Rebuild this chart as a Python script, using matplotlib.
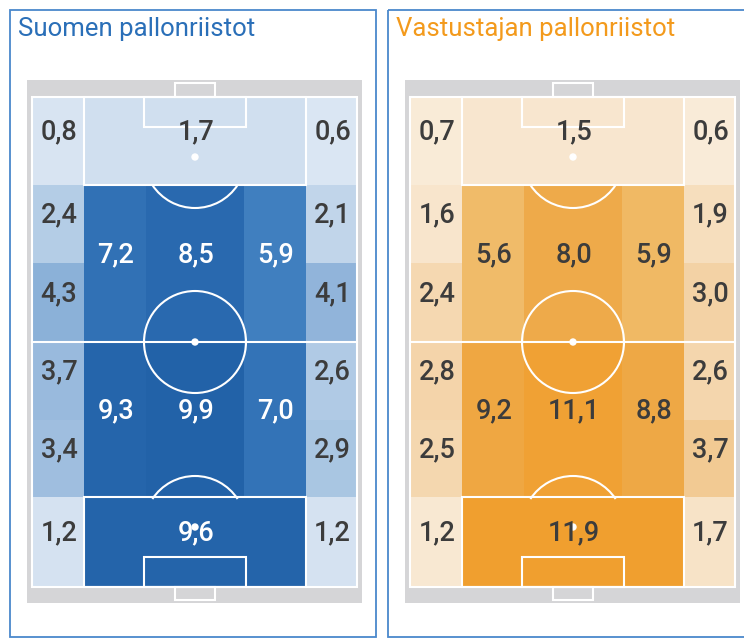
import matplotlib
matplotlib.use("Agg")
import matplotlib.pyplot as plt
from matplotlib.patches import Rectangle, Circle, Arc
from matplotlib.colors import LinearSegmentedColormap, Normalize

# values per zone (top of pitch = opponent goal)
titles = ["Suomen pallonriistot", "Vastustajan pallonriistot"]

fin_top = [0.8, 1.7, 0.6]
fin_wing_left = [2.4, 4.3, 3.7, 3.4]
fin_wing_right = [2.1, 4.1, 2.6, 2.9]
fin_mid_upper = [7.2, 8.5, 5.9]
fin_mid_lower = [9.3, 9.9, 7.0]
fin_bottom = [1.2, 9.6, 1.2]

opp_top = [0.7, 1.5, 0.6]
opp_wing_left = [1.6, 2.4, 2.8, 2.5]
opp_wing_right = [1.9, 3.0, 2.6, 3.7]
opp_mid_upper = [5.6, 8.0, 5.9]
opp_mid_lower = [9.2, 11.1, 8.8]
opp_bottom = [1.2, 11.9, 1.7]

teams = [
    (fin_top, fin_wing_left, fin_wing_right, fin_mid_upper, fin_mid_lower, fin_bottom),
    (opp_top, opp_wing_left, opp_wing_right, opp_mid_upper, opp_mid_lower, opp_bottom),
]

blue_cmap = LinearSegmentedColormap.from_list("fin", [
    (0.0, "#dfe9f5"), (0.17, "#d0dfef"), (0.24, "#b4cde6"), (0.43, "#8cb1d8"),
    (0.55, "#4d88c5"), (0.6, "#3e7dbe"), (0.75, "#2e6eb3"), (1.0, "#2262a8")])
orange_cmap = LinearSegmentedColormap.from_list("opp", [
    (0.0, "#faeedd"), (0.13, "#f8e6ce"), (0.16, "#f6ddbb"), (0.25, "#f3d2a5"),
    (0.31, "#f2c992"), (0.48, "#f0ba66"), (0.67, "#eeaa4a"), (1.0, "#f09f2e")])
cmaps = [blue_cmap, orange_cmap]
norms = [Normalize(0, 10), Normalize(0, 12)]
title_colors = ["#2a6fb8", "#f39a1c"]
border_color = "#4a88cc"
dark_text = "#3c3c3c"

# layout (pixels, relative to panel)
panel_dx = [0, 378]
px0, px1, py0, py1 = 32, 357, 97, 587
wing_l = (32, 84)
wing_r = (306, 357)
mid_cols = [(84, 146), (146, 244), (244, 306)]
rows = [97, 185, 263, 342, 420, 497, 587]
cx = 195

fig = plt.figure(figsize=(7.44, 6.39), dpi=100)
ax = fig.add_axes([0, 0, 1, 1])
ax.set_xlim(0, 744)
ax.set_ylim(639, 0)
ax.axis("off")

for k, (top, wl, wr, mu, ml, bot) in enumerate(teams):
    dx = panel_dx[k]
    cmap, norm = cmaps[k], norms[k]

    ax.add_patch(Rectangle((dx + 10, 10), 366, 627, fill=False,
                           edgecolor=border_color, lw=1.3))
    ax.text(dx + 18, 29, titles[k], color=title_colors[k], fontsize=18.5,
            family="Roboto", va="center", ha="left")

    # grey surround
    ax.add_patch(Rectangle((dx + 27, 80), 335, 523, color="#d5d5d7", lw=0))

    cells = []
    cells.append((wing_l, (rows[0], rows[1]), top[0]))
    cells.append(((84, 306), (rows[0], rows[1]), top[1]))
    cells.append((wing_r, (rows[0], rows[1]), top[2]))
    for i in range(4):
        cells.append((wing_l, (rows[1 + i], rows[2 + i]), wl[i]))
        cells.append((wing_r, (rows[1 + i], rows[2 + i]), wr[i]))
    for j in range(3):
        cells.append((mid_cols[j], (rows[1], rows[3]), mu[j]))
        cells.append((mid_cols[j], (rows[3], rows[5]), ml[j]))
    cells.append((wing_l, (rows[5], rows[6]), bot[0]))
    cells.append(((84, 306), (rows[5], rows[6]), bot[1]))
    cells.append((wing_r, (rows[5], rows[6]), bot[2]))

    for (x0, x1), (y0, y1), v in cells:
        ax.add_patch(Rectangle((dx + x0, y0), x1 - x0, y1 - y0,
                               color=cmap(norm(v)), lw=0))

    # pitch markings
    lc = "white"
    lw = 1.5
    ax.add_patch(Rectangle((dx + px0, py0), px1 - px0, py1 - py0, fill=False,
                           edgecolor=lc, lw=lw))
    ax.plot([dx + px0, dx + px1], [rows[3], rows[3]], color=lc, lw=lw)
    ax.add_patch(Circle((dx + cx, rows[3]), 51, fill=False, edgecolor=lc, lw=lw))
    ax.add_patch(Circle((dx + cx, rows[3]), 3, color=lc))
    # penalty areas
    ax.add_patch(Rectangle((dx + 84, rows[0]), 222, rows[1] - rows[0], fill=False,
                           edgecolor=lc, lw=lw))
    ax.add_patch(Rectangle((dx + 84, rows[5]), 222, rows[6] - rows[5], fill=False,
                           edgecolor=lc, lw=lw))
    # goal areas
    ax.add_patch(Rectangle((dx + 144, rows[0]), 102, 30, fill=False,
                           edgecolor=lc, lw=lw))
    ax.add_patch(Rectangle((dx + 144, rows[6] - 30), 102, 30, fill=False,
                           edgecolor=lc, lw=lw))
    # goals
    ax.add_patch(Rectangle((dx + 175, 83), 40, 14, fill=False, edgecolor=lc, lw=lw))
    ax.add_patch(Rectangle((dx + 175, 587), 40, 13, fill=False, edgecolor=lc, lw=lw))
    # penalty spots and arcs
    ax.add_patch(Circle((dx + cx, 157), 3, color=lc))
    ax.add_patch(Circle((dx + cx, 527), 3, color=lc))
    ax.add_patch(Arc((dx + cx, 157), 102, 102, theta1=33.3, theta2=146.7,
                     edgecolor=lc, lw=lw))
    ax.add_patch(Arc((dx + cx, 527), 102, 102, theta1=213.3, theta2=326.7,
                     edgecolor=lc, lw=lw))

    for (x0, x1), (y0, y1), v in cells:
        if k == 0 and v > 5:
            tc = "white"
        else:
            tc = dark_text
        ax.text(dx + (x0 + x1) / 2 + 1, (y0 + y1) / 2 - 9, f"{v:.1f}".replace(".", ","),
                ha="center", va="center", fontsize=19.5, family="Roboto",
                fontweight="medium", color=tc, zorder=5)

fig.savefig("out.png", dpi=100)
